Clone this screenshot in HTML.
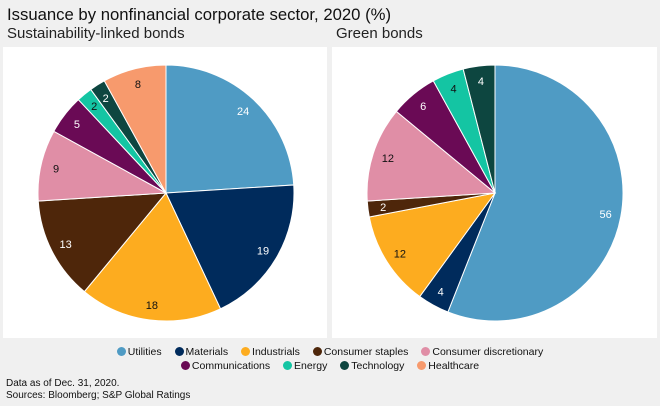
<!DOCTYPE html>
<html><head><meta charset="utf-8"><style>
body{margin:0;width:660px;height:406px;background:#f0f0f0;font-family:"Liberation Sans",sans-serif;position:relative;overflow:hidden}
.t{position:absolute;left:7px;top:5px;font-size:16.7px;color:#111;white-space:nowrap}
.s{position:absolute;top:25px;font-size:15px;color:#222;white-space:nowrap}
.panel{position:absolute;top:47px;height:291px;background:#fff}
.leg{position:absolute;left:0;width:660px;text-align:center;font-size:10.5px;color:#111}
.leg span{margin:0 5px;white-space:nowrap}
.leg i{display:inline-block;width:9px;height:9px;border-radius:50%;margin-right:2px;vertical-align:-1px}
.n{position:absolute;left:6px;font-size:10px;color:#111}
</style></head><body>
<div class="t">Issuance by nonfinancial corporate sector, 2020 (%)</div>
<div class="s" style="left:7px">Sustainability-linked bonds</div>
<div class="s" style="left:336px">Green bonds</div>
<div class="panel" style="left:3px;width:324px"></div>
<div class="panel" style="left:332px;width:325px"></div>
<svg id="svg" width="660" height="406" style="position:absolute;left:0;top:0"></svg>
<div class="leg" style="top:346px">
<span><i style="background:#4f9bc4"></i>Utilities</span>
<span><i style="background:#002b5c"></i>Materials</span>
<span><i style="background:#fdac1f"></i>Industrials</span>
<span><i style="background:#4e260a"></i>Consumer staples</span>
<span><i style="background:#e08ea6"></i>Consumer discretionary</span></div>
<div class="leg" style="top:360px">
<span><i style="background:#6a0a55"></i>Communications</span>
<span><i style="background:#14c5a3"></i>Energy</span>
<span><i style="background:#0d4640"></i>Technology</span>
<span><i style="background:#f79a6d"></i>Healthcare</span></div>
<div class="n" style="top:378px">Data as of Dec. 31, 2020.</div>
<div class="n" style="top:390px">Sources: Bloomberg; S&amp;P Global Ratings</div>
<script>
const categories=["Utilities","Materials","Industrials","Consumer staples","Consumer discretionary","Communications","Energy","Technology","Healthcare"];
const slbValues=[24,19,18,13,9,5,2,2,8];
const greenValues=[56,4,12,2,12,6,4,4,0];
const colors=["#4f9bc4","#002b5c","#fdac1f","#4e260a","#e08ea6","#6a0a55","#14c5a3","#0d4640","#f79a6d"];
const darkText=[false,false,true,false,true,false,true,false,true];
const svg=document.getElementById('svg');const NS="http://www.w3.org/2000/svg";
function pie(vals,cx,cy,r,name){
 const tot=vals.reduce((a,b)=>a+b,0);let a0=0;
 vals.forEach((v,i)=>{if(!v)return;
  const a1=a0+v/tot*2*Math.PI;
  const p=a=>[cx+r*Math.sin(a),cy-r*Math.cos(a)];
  const [x0,y0]=p(a0),[x1,y1]=p(a1);
  const path=document.createElementNS(NS,'path');
  path.setAttribute('d',`M${cx},${cy}L${x0},${y0}A${r},${r} 0 ${a1-a0>Math.PI?1:0} 1 ${x1},${y1}Z`);
  path.setAttribute('fill',colors[i]);path.setAttribute('stroke','#fff');path.setAttribute('stroke-width','1');
  
  
  svg.appendChild(path);
  const am=(a0+a1)/2,lr=r*0.88;
  const t=document.createElementNS(NS,'text');
  t.setAttribute('x',cx+lr*Math.sin(am));t.setAttribute('y',cy-lr*Math.cos(am)+4);
  t.setAttribute('text-anchor','middle');t.setAttribute('font-size','11');
  t.setAttribute('font-family','Liberation Sans, sans-serif');
  t.setAttribute('fill',darkText[i]?'#111':'#fff');t.textContent=v;
  
  
  svg.appendChild(t);a0=a1;});
}
pie(slbValues,166,193,128,'slb');
pie(greenValues,495,193,128,'green');
</script>
</body></html>
